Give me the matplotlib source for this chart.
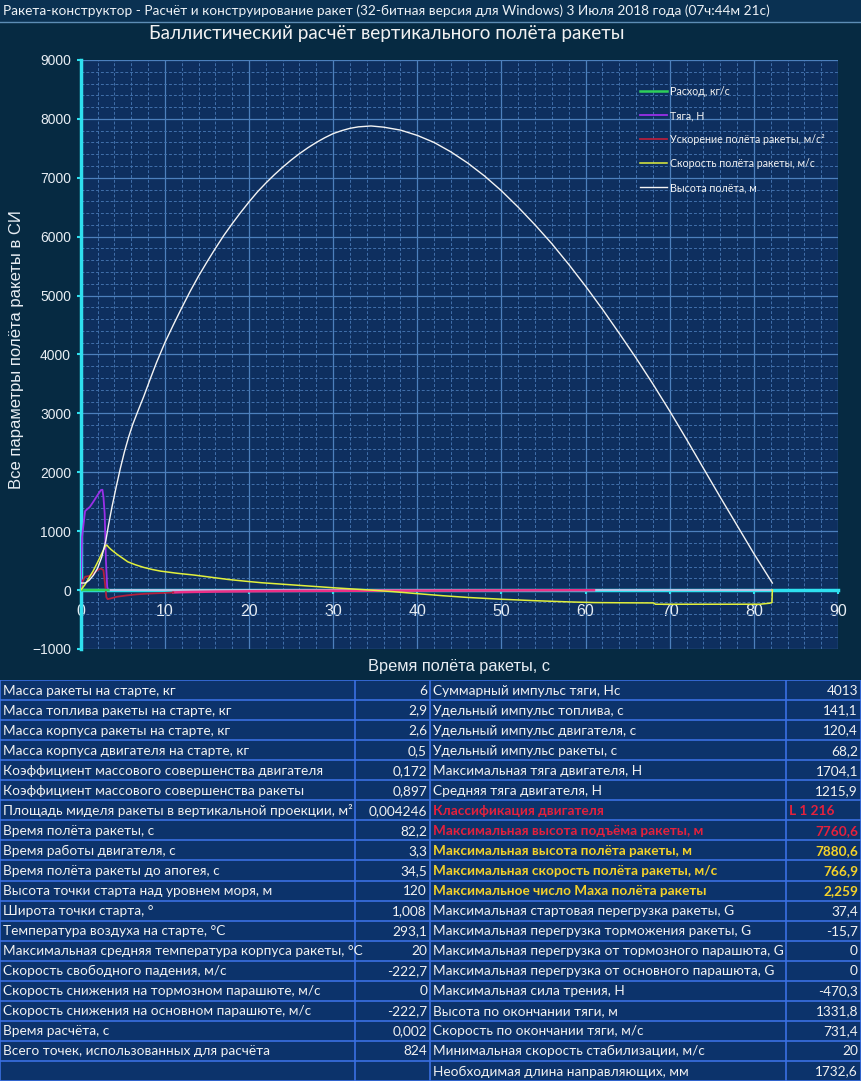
import numpy as np
import matplotlib.pyplot as plt
from matplotlib.patches import Rectangle
from matplotlib.ticker import MultipleLocator

plt.rcParams['font.family'] = ['Lato', 'DejaVu Sans']

# Расход топлива, кг/с
t_flow = [0, 0.15, 3.2, 3.3]
flow = [0, 0.9, 0.9, 0]

# Тяга, Н
t_thrust = [0, 0.16, 0.52, 1.1, 1.5, 1.9, 2.4, 2.58, 2.7, 2.85, 3.0, 3.15, 3.3, 12, 82.2]
thrust = [0, 900, 1341, 1415, 1500, 1590, 1698, 1704, 1585, 1300, 500, 50, 0, 0, 0]

# Ускорение, м/с²
t_acc = [0, 0.2, 0.52, 1.0, 1.5, 2.0, 2.4, 2.7, 2.9, 3.05, 3.2, 3.6, 4.3, 5.5, 6.6, 8.0, 9.4, 11,
         12, 13, 16, 20, 25, 30, 35, 40, 45, 50, 55, 61]
acc = [0, 150, 226, 240, 280, 340, 367, 340, 100, -120, -154, -140, -113, -90, -73, -60, -51, -40,
       -35, -32, -25, -20, -15, -12, -10, -9, -8, -6, -4, -2]

# Скорость, м/с
t_vel = [0, 0.5, 1.0, 1.5, 2.0, 2.5, 2.9, 3.1, 3.3, 3.6, 4.3, 5.0, 5.6, 6.5, 7.5, 8.5, 9.5, 11.5,
         13.5, 15.5, 17.5, 19.5, 21.5, 24, 26, 28, 30, 32, 34.5, 37, 40, 43, 46, 50, 54, 58, 61,
         65, 68.1, 68.3, 80.7, 81.9, 82.15, 82.2]
vel = [0, 90, 210, 330, 470, 620, 740, 767, 731, 690, 610, 540, 480, 430, 385, 350, 322, 285,
       255, 218, 181, 152, 125, 100, 80, 60, 40, 22, 0, -25, -60, -95, -125, -155, -180, -200, -212,
       -216, -218, -240, -240, -222, -210, 0]

# Высота, м
t_h = [0, 0.5, 0.6, 1.0, 1.5, 2.0, 2.5, 3.0, 3.3, 3.7, 4.2, 4.7, 5.2, 5.7, 6.2, 6.8, 7.5, 8.2, 9.0,
       10, 11, 12, 13, 14, 15, 16, 17, 18, 19, 20, 21, 22, 23, 24, 25, 26, 27, 28, 29, 30, 31, 32,
       33, 34.5, 36, 38, 40, 42, 44, 46, 48, 50, 52, 54, 56, 58, 60, 62, 64, 66, 68, 70, 72, 74,
       76, 78, 80, 82.2]
height = [120, 120, 125, 165, 250, 370, 560, 850, 1100, 1400, 1740, 2060, 2350, 2600, 2820, 3040,
          3290, 3560, 3860, 4200, 4500, 4790, 5070, 5330, 5570, 5800, 6020, 6220, 6410, 6590, 6760,
          6910, 7050, 7180, 7300, 7410, 7510, 7600, 7680, 7750, 7800, 7840, 7865, 7880, 7860, 7810,
          7720, 7600, 7440, 7250, 7030, 6780, 6500, 6200, 5880, 5530, 5160, 4770, 4360, 3940, 3500,
          3040, 2560, 2070, 1580, 1100, 620, 120]

legend_labels = ['Расход, кг/с', 'Тяга, Н', 'Ускорение полёта ракеты, м/с²',
                 'Скорость полёта ракеты, м/с', 'Высота полёта, м']

left_labels = [
    'Масса ракеты на старте, кг',
    'Масса топлива ракеты на старте, кг',
    'Масса корпуса ракеты на старте, кг',
    'Масса корпуса двигателя на старте, кг',
    'Коэффициент массового совершенства двигателя',
    'Коэффициент массового совершенства ракеты',
    'Площадь миделя ракеты в вертикальной проекции, м²',
    'Время полёта ракеты, с',
    'Время работы двигателя, с',
    'Время полёта ракеты до апогея, с',
    'Высота точки старта над уровнем моря, м',
    'Широта точки старта, °',
    'Температура воздуха на старте, °С',
    'Максимальная средняя температура корпуса ракеты, °С',
    'Скорость свободного падения, м/с',
    'Скорость снижения на тормозном парашюте, м/с',
    'Скорость снижения на основном парашюте, м/с',
    'Время расчёта, с',
    'Всего точек, использованных для расчёта',
    '',
]
left_values = ['6', '2,9', '2,6', '0,5', '0,172', '0,897', '0,004246', '82,2', '3,3', '34,5',
               '120', '1,008', '293,1', '20', '-222,7', '0', '-222,7', '0,002', '824', '']

right_labels = [
    'Суммарный импульс тяги, Нс',
    'Удельный импульс топлива, с',
    'Удельный импульс двигателя, с',
    'Удельный импульс ракеты, с',
    'Максимальная тяга двигателя, Н',
    'Средняя тяга двигателя, Н',
    'Классификация двигателя',
    'Максимальная высота подъёма ракеты, м',
    'Максимальная высота полёта ракеты, м',
    'Максимальная скорость полёта ракеты, м/с',
    'Максимальное число Маха полёта ракеты',
    'Максимальная стартовая перегрузка ракеты, G',
    'Максимальная перегрузка торможения ракеты, G',
    'Максимальная перегрузка от тормозного парашюта, G',
    'Максимальная перегрузка от основного парашюта, G',
    'Максимальная сила трения, Н',
    'Высота по окончании тяги, м',
    'Скорость по окончании тяги, м/с',
    'Минимальная скорость стабилизации, м/с',
    'Необходимая длина направляющих, мм',
]
right_values = ['4013', '141,1', '120,4', '68,2', '1704,1', '1215,9', 'L 1 216', '7760,6',
                '7880,6', '766,9', '2,259', '37,4', '-15,7', '0', '0', '-470,3', '1331,8',
                '731,4', '20', '1732,6']
red_rows = [6, 7]
yellow_rows = [8, 9, 10]

W, H = 861, 1081
fig = plt.figure(figsize=(W / 100, H / 100), dpi=100, facecolor='#062a42')

# шапка окна
fig.patches.append(Rectangle((0, 1 - 22 / H), 1, 22 / H, transform=fig.transFigure,
                             facecolor='#0a3152', edgecolor='none'))
fig.lines.append(plt.Line2D([0, 1], [1 - 22 / H, 1 - 22 / H], transform=fig.transFigure,
                            color='#5d8db5', lw=1))
fig.text(3 / W, 1 - 11 / H,
         'Ракета-конструктор - Расчёт и конструирование ракет (32-битная версия для Windows) '
         '3 Июля 2018 года (07ч:44м 21с)',
         ha='left', va='center', fontsize=9.85, color='#eef2f6')

ax = fig.add_axes([80.7 / W, 1 - 649 / H, (838 - 80.7) / W, (649 - 60) / H])
ax.set_facecolor('#0e2f5f')
ax.set_xlim(0, 90)
ax.set_ylim(-1000, 9000)
ax.xaxis.set_major_locator(MultipleLocator(10))
ax.xaxis.set_minor_locator(MultipleLocator(2))
ax.yaxis.set_major_locator(MultipleLocator(1000))
ax.yaxis.set_minor_locator(MultipleLocator(200))
ax.grid(which='major', color='#4d80bd', lw=0.9)
ax.grid(which='minor', color='#4170ab', lw=0.7, ls=(0, (3, 2)))
ax.set_axisbelow(True)

for s in ['top', 'right']:
    ax.spines[s].set_visible(False)
ax.spines['left'].set_color('#2fe0ef')
ax.spines['left'].set_linewidth(2.5)
ax.spines['bottom'].set_position(('data', 0))
ax.spines['bottom'].set_color('#2fe0ef')
ax.spines['bottom'].set_linewidth(2.5)
ax.tick_params(which='major', colors='#2fe0ef', labelcolor='#e8eef4', length=3, width=1.5)
ax.tick_params(which='minor', length=0)
ax.tick_params(axis='x', pad=7, labelsize=11.5)
ax.tick_params(axis='y', pad=4, labelsize=10)
for lab in ax.get_xticklabels() + ax.get_yticklabels():
    lab.set_family('Liberation Sans')

t_thrust = np.array(t_thrust)
thrust = np.array(thrust)
t_acc = np.array(t_acc)
acc = np.array(acc)

ax.plot(t_thrust[t_thrust >= 3.3], thrust[t_thrust >= 3.3], color='#c4bfe6', lw=1.3, zorder=3)
ax.plot(t_acc[t_acc >= 11], acc[t_acc >= 11], color='#ec2f86', lw=1.8, zorder=3.2)
ax.plot(t_flow, flow, color='#2ed05a', lw=1.8, zorder=3.5, label=legend_labels[0])
ax.plot(t_thrust[t_thrust <= 3.3], thrust[t_thrust <= 3.3], color='#9a30e8', lw=1.3, zorder=3.4,
        label=legend_labels[1])
ax.plot(t_acc[t_acc <= 11], acc[t_acc <= 11], color='#b3203e', lw=1.3, zorder=3.3,
        label=legend_labels[2])
ax.plot(t_vel, vel, color='#e2f03c', lw=1.1, zorder=3.6, label=legend_labels[3])
ax.plot(t_h, height, color='#f4f4f4', lw=1.0, zorder=3.7, label=legend_labels[4])

leg = ax.legend(loc='upper left', bbox_to_anchor=(640 / W, 1 - 86 / H),
                bbox_transform=fig.transFigure, frameon=False, fontsize=7.7,
                handlelength=2.5, handletextpad=0.35, labelspacing=1.22,
                borderaxespad=0, borderpad=0)
for txt in leg.get_texts():
    txt.set_color('#f2f2f2')

fig.text(387 / W, 1 - 33 / H, 'Баллистический расчёт вертикального полёта ракеты',
         ha='center', va='center', fontsize=13.6, color='#f2f2f2')
fig.text(17 / W, 1 - 350 / H, 'Все параметры полёта ракеты в СИ', rotation=90,
         ha='center', va='center', fontsize=12, color='#e8eef4', family='Liberation Sans')
fig.text(459 / W, 1 - 667 / H, 'Время полёта ракеты, с', ha='center', va='center',
         fontsize=11.8, color='#e8eef4', family='Liberation Sans')

# таблица параметров
top = 680
row_h = (H - top) / 20
tax = fig.add_axes([0, 0, 1, (H - top) / H])
tax.set_xlim(0, W)
tax.set_ylim(H, top)
tax.axis('off')
tax.add_patch(Rectangle((0, top), W, H - top, facecolor='#0c336b', edgecolor='none'))
cols = [0, 355, 430, 786, W]
for c in cols:
    tax.plot([c, c], [top, H], color='#3a70e2', lw=1.2)
for i in range(21):
    tax.plot([0, W], [top + i * row_h, top + i * row_h], color='#3a70e2', lw=1.2)

for i in range(20):
    yc = top + (i + 0.5) * row_h + 0.5
    clip = Rectangle((0, top + i * row_h), cols[1] - 1, row_h, transform=tax.transData)
    t1 = tax.text(3, yc, left_labels[i], ha='left', va='center', fontsize=9.8, color='#f2f2f2')
    t1.set_clip_path(clip)
    tax.text(cols[2] - 3, yc, left_values[i], ha='right', va='center', fontsize=9.8,
             color='#f2f2f2')

    color, weight = '#f2f2f2', 'normal'
    if i in red_rows:
        color, weight = '#e4213c', 'bold'
    elif i in yellow_rows:
        color, weight = '#f4d12a', 'bold'
    tax.text(cols[2] + 3, yc, right_labels[i], ha='left', va='center', fontsize=9.8,
             color=color, weight=weight)
    if right_values[i].startswith('L'):
        tax.text(cols[3] + 3, yc, right_values[i], ha='left', va='center', fontsize=9.8,
                 color=color, weight=weight)
    else:
        tax.text(W - 3, yc, right_values[i], ha='right', va='center', fontsize=9.8,
                 color=color, weight=weight)

fig.savefig('out.png', dpi=100, facecolor=fig.get_facecolor())
